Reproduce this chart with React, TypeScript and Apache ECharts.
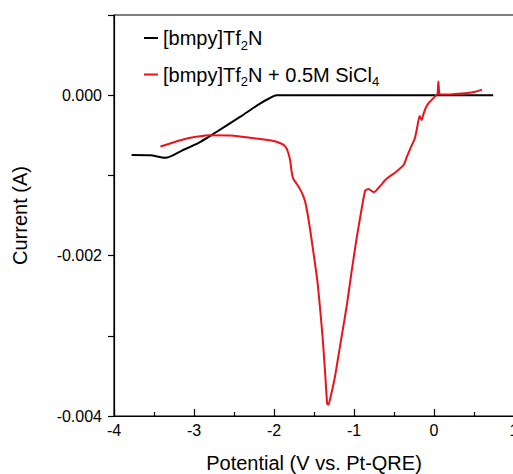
import React, { useEffect, useRef } from "react";
import * as echarts from "echarts";

const blackV = [-3.78, -3.55, -3.36, -3.15, -2.925, -2.72, -2.425, -2.175, -2.05, -1.97, -1.5, -1.0, -0.5, 0.0, 0.4, 0.74];
const blackI = [-0.000746, -0.00075, -0.00078, -0.00069, -0.000584, -0.000459, -0.000271, -0.000104, -0.000035, 0.0, 0.0, 0.0, 0.0, 0.0, 0.0, 0.0];

const redV = [
  -3.42, -3.09, -2.8, -2.5, -2.3, -2.1, -1.97, -1.88, -1.84, -1.8, -1.78, -1.76, -1.72, -1.66, -1.61,
  -1.56, -1.51, -1.46, -1.425, -1.39, -1.36, -1.335, -1.32, -1.29, -1.24, -1.17, -1.09, -1.03, -0.97,
  -0.91, -0.86, -0.82, -0.75, -0.68, -0.59, -0.48, -0.38, -0.34, -0.29, -0.24, -0.21, -0.18, -0.155,
  -0.13, -0.1, -0.06, -0.01, 0.03, 0.045, 0.055, 0.065, 0.08, 0.2, 0.35, 0.5, 0.6,
];
const redI = [
  -0.00064, -0.00054, -0.0005, -0.000505, -0.00053, -0.000555, -0.00058, -0.00062, -0.00067, -0.0008,
  -0.00095, -0.00104, -0.0011, -0.0012, -0.00133, -0.0016, -0.00194, -0.0023, -0.00265, -0.00305,
  -0.00348, -0.00385, -0.00386, -0.00375, -0.00352, -0.0031, -0.00262, -0.0022, -0.0018, -0.00145,
  -0.00119, -0.00117, -0.00121, -0.00114, -0.00104, -0.00096, -0.00087, -0.00077, -0.00065, -0.00054,
  -0.0004, -0.00026, -0.00031, -0.00023, -0.00015, -0.00009, -0.00004, 0.0, 0.00002, 0.00017, 0.00003,
  0.00001, 0.00001, 0.00002, 0.00004, 0.00007,
];

const seriesNames = ["[bmpy]Tf2N", "[bmpy]Tf2N + 0.5M SiCl4"];
const legendLabels = ["[bmpy]Tf{sub|2}N", "[bmpy]Tf{sub|2}N + 0.5M SiCl{sub|4}"];

const FONT = "Arial, 'Liberation Sans', sans-serif";

export default function App() {
  const ref = useRef<HTMLDivElement>(null);
  useEffect(() => {
    if (!ref.current) return;
    const chart = echarts.init(ref.current, undefined, { renderer: "svg" });
    const zip = (xs: number[], ys: number[]) => xs.map((x, i) => [x, ys[i]]);
    chart.setOption({
      animation: false,
      textStyle: { fontFamily: FONT },
      grid: {
        left: 114,
        top: 15,
        right: -1,
        bottom: 58,
        show: true,
        borderColor: "#000",
        borderWidth: 1.2,
        outerBoundsMode: "none",
        containLabel: false,
      },
      legend: {
        orient: "vertical",
        left: 139,
        top: 23,
        itemWidth: 14,
        itemHeight: 2,
        itemGap: 13,
        icon: "rect",
        data: seriesNames,
        formatter: (name: string) => legendLabels[seriesNames.indexOf(name)],
        textStyle: {
          fontFamily: FONT,
          fontSize: 20,
          color: "#000",
          rich: {
            sub: { fontSize: 13, fontFamily: FONT, color: "#000", padding: [14, 0, 0, 0] },
          },
        },
      },
      xAxis: {
        type: "value",
        min: -4,
        max: 1,
        interval: 1,
        name: "Potential (V vs. Pt-QRE)",
        nameLocation: "middle",
        nameGap: 37,
        nameTextStyle: { fontSize: 20, color: "#000", fontFamily: FONT },
        axisLine: { onZero: false, lineStyle: { color: "#000", width: 1.2 } },
        axisTick: { inside: true, length: 7, lineStyle: { color: "#000", width: 1.2 } },
        minorTick: { show: true, splitNumber: 2, length: 4, lineStyle: { color: "#000", width: 1.2 } },
        axisLabel: { color: "#000", fontSize: 16, margin: 6, fontFamily: FONT, showMaxLabel: true },
        splitLine: { show: false },
      },
      yAxis: {
        type: "value",
        min: -0.004,
        max: 0.001,
        interval: 0.001,
        name: "Current (A)",
        nameLocation: "middle",
        nameGap: 84,
        nameTextStyle: { fontSize: 20, color: "#000", fontFamily: FONT },
        axisLine: { onZero: false, lineStyle: { color: "#000", width: 1.2 } },
        axisTick: { inside: false, length: 6, lineStyle: { color: "#000", width: 1.2 } },
        axisLabel: {
          color: "#000",
          fontSize: 16,
          margin: 12,
          fontFamily: FONT,
          formatter: (v: number) => {
            const k = Math.round(v * 1000);
            if (k % 2 !== 0 || k > 0) return "";
            return (k / 1000).toFixed(3);
          },
        },
        splitLine: { show: false },
      },
      series: [
        {
          name: seriesNames[0],
          type: "line",
          data: zip(blackV, blackI),
          showSymbol: false,
          smooth: 0.3,
          lineStyle: { color: "#000", width: 2 },
          itemStyle: { color: "#000" },
          z: 2,
        },
        {
          name: seriesNames[1],
          type: "line",
          data: zip(redV, redI),
          showSymbol: false,
          smooth: 0.2,
          lineStyle: { color: "#e8131b", width: 2 },
          itemStyle: { color: "#e8131b" },
          z: 3,
        },
      ],
    });
    return () => chart.dispose();
  }, []);
  return (
    <div
      ref={ref}
      style={{ position: "fixed", left: 0, top: 0, width: 513, height: 474, background: "#fff" }}
    />
  );
}
